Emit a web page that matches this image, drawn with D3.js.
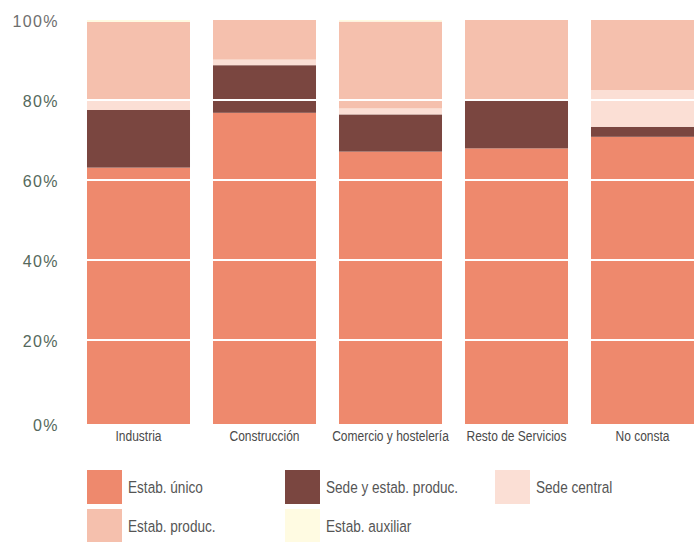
<!DOCTYPE html>
<html>
<head>
<meta charset="utf-8">
<script src="https://cdn.jsdelivr.net/npm/d3@7"></script>
<style>
  html, body { margin: 0; padding: 0; background: #ffffff; }
  svg { display: block; }
</style>
</head>
<body>
<svg id="chart" width="694" height="542"></svg>
<script>
// ---- data ----
const categories = ["Industria", "Construcción", "Comercio y hostelería", "Resto de Servicios", "No consta"];
const seriesNames = ["Estab. único", "Sede y estab. produc.", "Sede central", "Estab. produc.", "Estab. auxiliar"];
const estabUnico      = [63.1, 76.8, 67.1, 67.9, 70.8];
const sedeYEstab      = [14.4, 11.9,  9.3, 12.1,  2.5];
const sedeCentral     = [ 2.6,  1.4,  1.5,  0.0,  9.2];
const estabProduc     = [19.4,  9.9, 21.7, 20.0, 17.5];
const estabAuxiliar   = [ 0.5,  0.0,  0.4,  0.0,  0.0];
const yTicks = [0, 20, 40, 60, 80, 100];
const yTickLabels = ["0%", "20%", "40%", "60%", "80%", "100%"];
const seriesColors = ["#ee896d", "#7a4640", "#fbdfd5", "#f5c0ad", "#fffbe2"];

// ---- build table ----
const seriesValues = [estabUnico, sedeYEstab, sedeCentral, estabProduc, estabAuxiliar];
const table = categories.map((c, i) => {
  const row = { cat: c };
  seriesNames.forEach((s, j) => row[s] = seriesValues[j][i]);
  return row;
});
const stacked = d3.stack().keys(seriesNames)(table);

const svg = d3.select("#chart");

const x = d3.scaleBand().domain(categories).range([75.5, 705.5])
  .paddingInner(0.1825).paddingOuter(0.09125);
const y = d3.scaleLinear().domain([0, 100]).range([420, 20]);
const color = d3.scaleOrdinal().domain(seriesNames).range(seriesColors);
const baseExtra = 4; // bars extend slightly below the 0% baseline
const narrowFont = "'Liberation Sans', Arial, sans-serif";
const squeeze = 0.8;

// bars
const g = svg.append("g");
g.selectAll("g.series").data(stacked).join("g")
  .attr("class", "series")
  .attr("fill", d => color(d.key))
  .selectAll("rect").data(d => d).join("rect")
  .attr("x", d => x(d.data.cat))
  .attr("width", x.bandwidth())
  .attr("y", d => y(d[1]))
  .attr("height", d => Math.max(0, y(d[0]) - y(d[1]) + (d[0] === 0 ? baseExtra : 0)));

// white gridlines over bars
svg.append("g").selectAll("line").data(yTicks.filter(t => t > 0 && t < 100)).join("line")
  .attr("x1", 75).attr("x2", 694)
  .attr("y1", d => y(d)).attr("y2", d => y(d))
  .attr("stroke", "#ffffff").attr("stroke-width", 2);

// y axis labels
const yAxis = d3.axisLeft(y).tickValues(yTicks).tickFormat((d, i) => yTickLabels[i]).tickSize(0).tickPadding(0);
const ya = svg.append("g").attr("transform", "translate(59,1)").call(yAxis);
ya.select(".domain").remove();
ya.selectAll("text")
  .attr("font-family", "'Liberation Sans', Arial, sans-serif")
  .attr("font-size", 16)
  .attr("letter-spacing", "1.4px")
  .attr("fill", d => d === 100 ? "#6e6e6e" : "#55695c")
  .attr("dy", d => d === 0 ? "0.62em" : "0.35em");

// x axis labels
const xAxis = d3.axisBottom(x).tickSize(0).tickPadding(0);
const xa = svg.append("g").attr("transform", "translate(0,430)").call(xAxis);
xa.select(".domain").remove();
xa.selectAll("text")
  .attr("font-family", narrowFont)
  .attr("font-size", 15)
  .attr("fill", "#4a4a4a")
  .attr("dy", "0.71em")
  .attr("transform", `scale(${squeeze},1)`);

// legend
const legendPos = [
  { x: 87, y: 470 }, { x: 285, y: 470 }, { x: 495, y: 470 },
  { x: 87, y: 509 }, { x: 285, y: 509 }
];
const leg = svg.append("g").selectAll("g").data(seriesNames).join("g")
  .attr("transform", (d, i) => `translate(${legendPos[i].x},${legendPos[i].y})`);
leg.append("rect").attr("width", 35).attr("height", 34).attr("fill", d => color(d));
leg.append("text")
  .attr("font-family", narrowFont)
  .attr("transform", `translate(41,17) scale(${squeeze},1)`)
  .attr("dy", "0.35em")
  .attr("font-size", 17).attr("fill", "#555")
  .text(d => d);
</script>
</body>
</html>
